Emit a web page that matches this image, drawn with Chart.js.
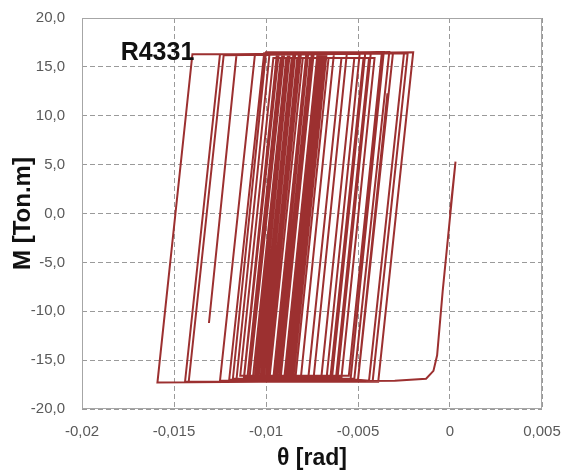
<!DOCTYPE html>
<html>
<head>
<meta charset="utf-8">
<script src="https://cdn.jsdelivr.net/npm/chart.js@4.4.0/dist/chart.umd.min.js"></script>
<style>
  html, body { margin: 0; padding: 0; background: #fff; }
  #wrap { width: 566px; height: 472px; }
</style>
</head>
<body>
<div id="wrap"><canvas id="chart" width="566" height="472"></canvas></div>
<script>
// Rama inicial (carga hasta +5.3 y descarga hasta la fluencia negativa)
const branchTheta  = [0, 0.0003, -0.0004, -0.0007, -0.0009, -0.0013, -0.0030];
const branchMoment = [0, 5.3, -8.0, -14.5, -16.1, -16.9, -17.1];

// Ciclos histereticos (esquinas de cada lazo)
const cycleTheta = [
  -0.0159, -0.0140, -0.0116, -0.0131, -0.0116, -0.0020, -0.0039,
  -0.0144, -0.0125, -0.0023, -0.0042,
  -0.0142, -0.0123, -0.0025, -0.0044,
  -0.0050, -0.0034, -0.0050,
  -0.0125, -0.0106, -0.0031, -0.0050,
  -0.0120, -0.0101, -0.0033, -0.0052,
  -0.0118, -0.0100, -0.0036, -0.0054,
  -0.0116, -0.0098, -0.0037, -0.0055,
  -0.0114, -0.0096, -0.0041, -0.0059,
  -0.0112, -0.0094, -0.0043, -0.0061,
  -0.0110, -0.0092, -0.0044, -0.0062,
  -0.0109, -0.0090, -0.0046, -0.0064,
  -0.0107, -0.0089, -0.0047, -0.0065,
  -0.0105, -0.0087, -0.0049, -0.0067,
  -0.0104, -0.0086, -0.0052, -0.0070,
  -0.0103, -0.0085, -0.0056, -0.0074,
  -0.0101, -0.0083, -0.0059, -0.0077,
  -0.0100, -0.0082, -0.0063, -0.0081,
  -0.0098, -0.0080, -0.0066, -0.0084,
  -0.0096, -0.0078, -0.0067, -0.0085,
  -0.0094, -0.0076, -0.0069, -0.0087,
  -0.0092, -0.0074, -0.0070, -0.0088,
  -0.0112, -0.0093, -0.0077, -0.0095,
  -0.0109, -0.0091, -0.0075, -0.0093,
  -0.0106, -0.0088, -0.0072, -0.0090,
  -0.0102, -0.0084, -0.0071, -0.0089,
  -0.0100, -0.0082, -0.0069, -0.0087,
  -0.0099, -0.0081, -0.0068, -0.0086
];
const cycleMoment = [
  -17.3, 16.3, 16.3, -11.2, 16.3, 16.5, -17.2,
  -17.2, 16.3, 16.4, -17.1,
  -17.2, 16.2, 16.4, -17.1,
  -17.0, 12.3, -17.0,
  -17.1, 16.3, 16.4, -17.0,
  -17.0, 16.4, 16.5, -16.9,
  -16.9, 16.5, 16.5, -16.9,
  -16.9, 16.5, 16.5, -16.6,
  -16.6, 15.9, 15.9, -16.8,
  -16.8, 16.5, 16.5, -16.6,
  -16.6, 15.9, 15.9, -16.9,
  -16.9, 16.5, 16.5, -16.6,
  -16.6, 15.9, 15.9, -16.8,
  -16.8, 16.5, 16.5, -16.7,
  -16.7, 15.9, 15.9, -16.9,
  -16.9, 16.5, 16.5, -16.6,
  -16.6, 15.9, 15.9, -16.8,
  -16.8, 16.5, 16.5, -16.7,
  -16.7, 15.9, 15.9, -16.8,
  -16.8, 16.5, 16.5, -16.6,
  -16.6, 15.9, 15.9, -16.8,
  -16.8, 16.5, 16.5, -16.7,
  -16.9, 16.5, 16.5, -16.8,
  -16.8, 16.5, 16.5, -16.8,
  -16.8, 16.4, 16.4, -16.7,
  -16.7, 16.5, 16.5, -16.8,
  -16.8, 16.5, 16.5, -16.7,
  -16.7, 16.4, 16.4, -16.8
];

// Ejes
const xTicks = [-0.02, -0.015, -0.01, -0.005, 0, 0.005];
const xTickLabels = ['-0,02', '-0,015', '-0,01', '-0,005', '0', '0,005'];
const yTicks = [-20, -15, -10, -5, 0, 5, 10, 15, 20];
const yTickLabels = ['-20,0', '-15,0', '-10,0', '-5,0', '0,0', '5,0', '10,0', '15,0', '20,0'];

const specimen = 'R4331';
const lineColor = '#9c3030';

const points = branchTheta.concat(cycleTheta).map((t, i) => ({
  x: t,
  y: branchMoment.concat(cycleMoment)[i]
}));

// Marco del area de trazado y etiqueta del especimen
const framePlugin = {
  id: 'frame',
  beforeDatasetsDraw(chart) {
    const { ctx, chartArea: a } = chart;
    ctx.save();
    ctx.strokeStyle = '#a6a6a6';
    ctx.lineWidth = 1;
    ctx.strokeRect(a.left + 0.5, a.top + 0.5, a.right - a.left - 1, a.bottom - a.top - 1);
    ctx.restore();
  },
  afterDatasetsDraw(chart) {
    const { ctx, scales } = chart;
    ctx.save();
    ctx.font = 'bold 25px "Liberation Sans", Arial, sans-serif';
    ctx.fillStyle = '#111';
    ctx.textBaseline = 'alphabetic';
    ctx.fillText(specimen, scales.x.getPixelForValue(-0.0179), scales.y.getPixelForValue(15.7));
    ctx.restore();
  }
};

const tickFont = { family: '"Liberation Sans", Arial, sans-serif', size: 15 };

new Chart(document.getElementById('chart'), {
  type: 'scatter',
  data: {
    datasets: [{
      data: points,
      showLine: true,
      borderColor: lineColor,
      borderWidth: 2,
      pointRadius: 0,
      tension: 0,
      fill: false
    }]
  },
  options: {
    responsive: false,
    animation: false,
    layout: { padding: { top: 18, right: 24, left: 0, bottom: 0 } },
    plugins: { legend: { display: false }, tooltip: { enabled: false } },
    scales: {
      x: {
        type: 'linear',
        min: -0.02,
        max: 0.005,
        afterBuildTicks: s => { s.ticks = xTicks.map(v => ({ value: v })); },
        afterFit: s => { s.height = 63; s.paddingLeft = 0; s.paddingRight = 0; },
        ticks: {
          font: tickFont,
          color: '#595959',
          padding: 14,
          maxRotation: 0,
          callback: (v, i) => xTickLabels[i]
        },
        grid: { color: '#9a9a9a', lineWidth: 1, drawTicks: false },
        border: { display: false, dash: [5, 3] },
        title: {
          display: true,
          text: 'θ [rad]',
          font: { family: '"Liberation Sans", Arial, sans-serif', size: 23, weight: 'bold' },
          color: '#111',
          padding: { top: 0, bottom: 0 }
        }
      },
      y: {
        type: 'linear',
        min: -20,
        max: 20,
        afterBuildTicks: s => { s.ticks = yTicks.map(v => ({ value: v })); },
        afterFit: s => { s.width = 82; s.paddingTop = 0; s.paddingBottom = 0; },
        ticks: {
          font: tickFont,
          color: '#595959',
          padding: 17,
          callback: (v, i) => yTickLabels[i]
        },
        grid: { color: '#9a9a9a', lineWidth: 1, drawTicks: false },
        border: { display: false, dash: [5, 3] },
        title: {
          display: true,
          text: 'M [Ton.m]',
          font: { family: '"Liberation Sans", Arial, sans-serif', size: 24, weight: 'bold' },
          color: '#111',
          padding: { top: 9, bottom: 0 }
        }
      }
    }
  },
  plugins: [framePlugin]
});
</script>
</body>
</html>
